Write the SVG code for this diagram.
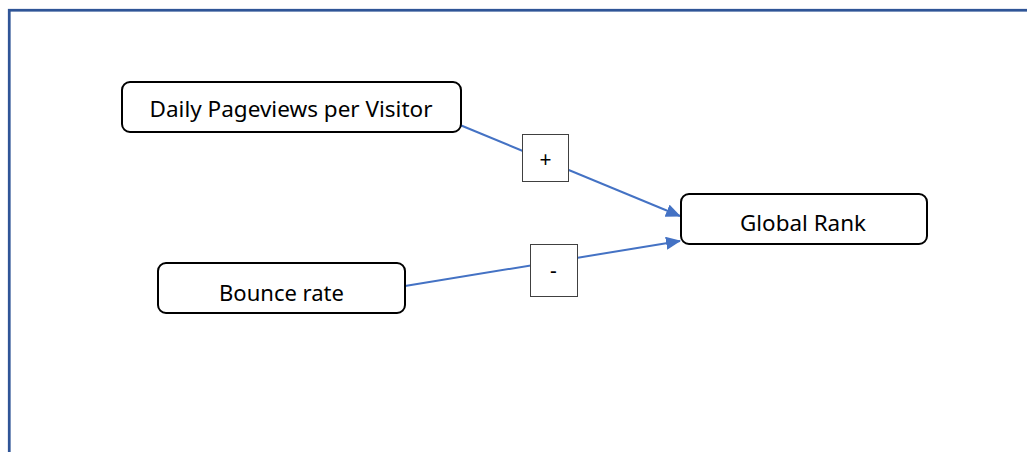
<svg xmlns="http://www.w3.org/2000/svg" width="1027" height="452" viewBox="0 0 1027 452">
<style>
.frame{fill:none;stroke:#2F5597;stroke-width:2.75}
.node{fill:#fff;stroke:#000;stroke-width:2}
.lbl{font-family:"Noto Sans","Liberation Sans",sans-serif;font-size:21px;fill:#000;text-anchor:middle}
.edge{fill:none;stroke:#4472C4;stroke-width:2}
.sign{fill:#fff;stroke:#404040;stroke-width:1}
.signt{font-family:"Noto Sans","Liberation Sans",sans-serif;font-size:21px;fill:#000;text-anchor:middle}
</style>
<defs>
<marker id="arr" markerWidth="15" markerHeight="13" refX="14" refY="6.5" orient="auto" markerUnits="userSpaceOnUse">
<path d="M0,0 L15,6.5 L0,13 Z" fill="#4472C4"/>
</marker>
</defs>
<rect width="1027" height="452" fill="#fff"/>
<rect class="frame" x="9.25" y="10.25" width="1040" height="460"/>
<g id="connectors">
<line class="edge" x1="460" y1="125" x2="680" y2="216" marker-end="url(#arr)"/>
<line class="edge" x1="405" y1="286" x2="680" y2="241" marker-end="url(#arr)"/>
</g>
<g id="sign-plus">
<rect class="sign" x="522.5" y="134.5" width="46" height="47"/>
<text class="signt" x="545.5" y="166.5">+</text>
</g>
<g id="sign-minus">
<rect class="sign" x="530.5" y="244.5" width="47" height="52"/>
<text class="signt" x="553.5" y="278">-</text>
</g>
<g id="node-daily">
<rect class="node" x="122" y="82" width="339" height="50" rx="8"/>
<text class="lbl" x="291" y="117" textLength="283" lengthAdjust="spacingAndGlyphs">Daily Pageviews per Visitor</text>
</g>
<g id="node-bounce">
<rect class="node" x="158" y="263" width="247" height="50" rx="8"/>
<text class="lbl" x="281.5" y="301" textLength="125" lengthAdjust="spacingAndGlyphs">Bounce rate</text>
</g>
<g id="node-global">
<rect class="node" x="681" y="194" width="246" height="50" rx="8"/>
<text class="lbl" x="803" y="231" textLength="126" lengthAdjust="spacingAndGlyphs">Global Rank</text>
</g>
</svg>
